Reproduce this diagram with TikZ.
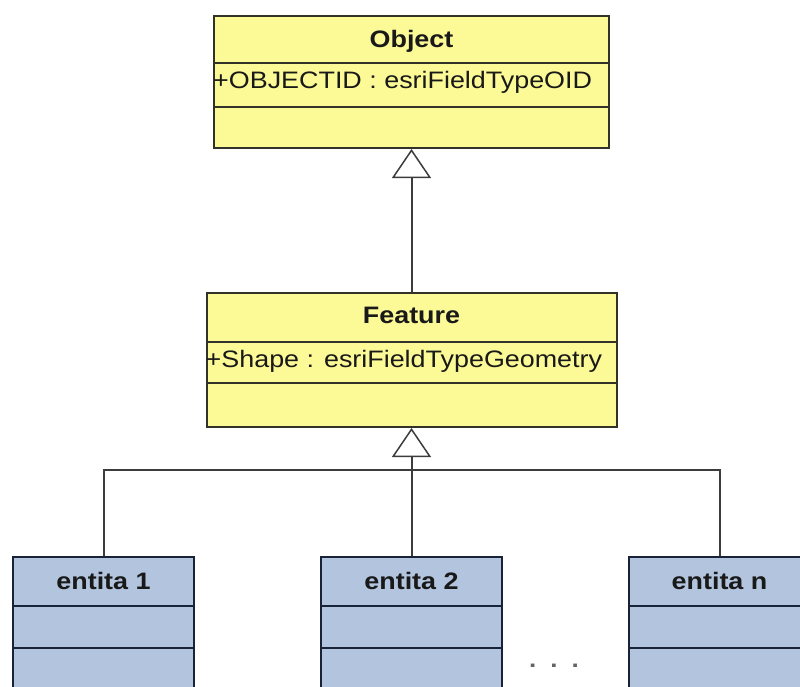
\documentclass[tikz,border=0pt]{standalone}
\usepackage{fontspec}
\setmainfont{Liberation Sans}[FakeStretch=1.13]
\usetikzlibrary{arrows.meta}
\definecolor{yfill}{RGB}{252,250,150}
\definecolor{yborder}{RGB}{50,50,40}
\definecolor{bfill}{RGB}{178,196,222}
\definecolor{bborder}{RGB}{25,35,55}
\definecolor{conn}{RGB}{60,60,60}
\definecolor{txt}{RGB}{25,25,25}
\definecolor{dotc}{RGB}{100,100,100}
\begin{document}
\begin{tikzpicture}[x=1pt,y=-1pt,
  ybox/.style={draw=yborder, fill=yfill, line width=2pt, inner sep=0pt, anchor=north west},
  bbox/.style={draw=bborder, fill=bfill, line width=2pt, inner sep=0pt, anchor=north west, minimum width=181pt, minimum height=150pt},
  ydiv/.style={draw=yborder, line width=2pt},
  bdiv/.style={draw=bborder, line width=2pt},
  title/.style={font=\fontsize{23.8}{28}\selectfont\bfseries, text=txt, anchor=base, inner sep=0pt},
  attr/.style={font=\fontsize{23.8}{28}\selectfont, text=txt, anchor=base west, inner sep=0pt},
  connline/.style={draw=conn, line width=2pt},
  gen/.style={connline, -{Triangle[length=29pt, width=39pt, line width=1.5pt, fill=white]}}]
\useasboundingbox (0,0) rectangle (800,686);
\clip (0,0) rectangle (800,686);
\fill[white] (0,0) rectangle (800,686);

% Object
\node[ybox, minimum width=395pt, minimum height=132pt] (obj) at (213,15) {};
\draw[ydiv] (obj.west |- 0,63) -- (obj.east |- 0,63);
\draw[ydiv] (obj.west |- 0,107) -- (obj.east |- 0,107);
\node[title] (objt) at (obj.north |- 0,47) {Object};
\node[attr] (obja) at (obj.west |- 0,88) {+OBJECTID : esriFieldTypeOID};

% Feature
\node[ybox, minimum width=410pt, minimum height=134pt] (feat) at (205.5,292) {};
\draw[ydiv] (feat.west |- 0,342) -- (feat.east |- 0,342);
\draw[ydiv] (feat.west |- 0,383) -- (feat.east |- 0,383);
\node[title] (featt) at (feat.north |- 0,323) {Feature};
\node[attr] (feata) at (feat.west |- 0,367) {+Shape : esriFieldTypeGeometry};

% Entities
\node[bbox] (e1) at (12,556) {};
\node[bbox] (e2) at (320,556) {};
\node[bbox] (en) at (628,556) {};
\foreach \e in {e1,e2,en}{
  \draw[bdiv] (\e.west |- 0,606) -- (\e.east |- 0,606);
  \draw[bdiv] (\e.west |- 0,648) -- (\e.east |- 0,648);
}
\node[title] (e1t) at (e1.north |- 0,589) {entita 1};
\node[title] (e2t) at (e2.north |- 0,589) {entita 2};
\node[title] (ent) at (en.north |- 0,589) {entita n};

% dots
\node[font=\fontsize{23}{27}\selectfont\bfseries, text=dotc, anchor=base, inner sep=0pt] (dots) at (554,667) {.\hspace{14pt}.\hspace{14pt}.};

% Connectors
\draw[gen] (feat.north) -- (obj.south);
\coordinate (j) at (e2.north |- 0,470);
\draw[connline] (e1.north) |- (j) -| (en.north);
\draw[gen] (e2.north) -- (feat.south);
\end{tikzpicture}
\end{document}
